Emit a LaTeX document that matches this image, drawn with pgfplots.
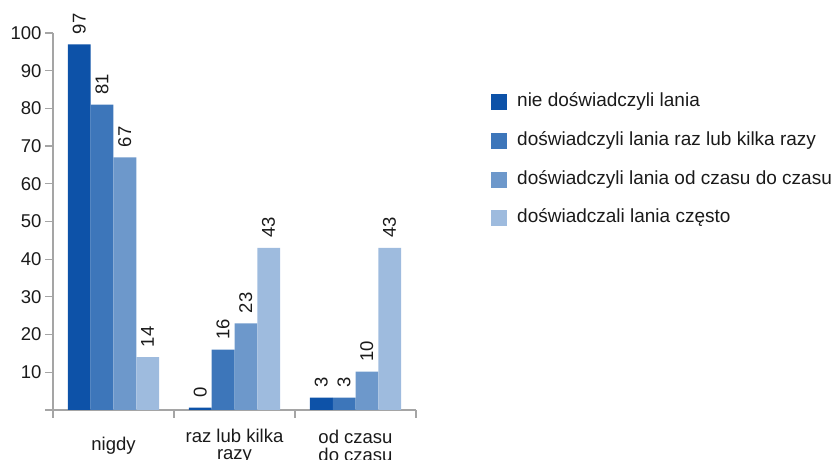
\documentclass[border=0pt]{standalone}
\usepackage{fontspec}
\setmainfont{Liberation Sans}
\usepackage{pgfplots}
\pgfplotsset{compat=1.18}
\definecolor{c1}{RGB}{13,82,168}
\definecolor{c2}{RGB}{61,118,186}
\definecolor{c3}{RGB}{109,152,203}
\definecolor{c4}{RGB}{158,187,222}
\definecolor{axisgray}{RGB}{165,165,165}
\definecolor{textc}{RGB}{26,26,26}
\begin{document}
\begin{tikzpicture}[x=1pt,y=1pt]
\path[use as bounding box] (0,0) rectangle (836,460);
\clip (0,0) rectangle (836,460);
\begin{axis}[
    at={(53pt,50pt)}, anchor=south west,
    scale only axis, width=363pt, height=377pt,
    xmin=-0.5, xmax=2.5, ymin=0, ymax=100,
    ybar=0pt, bar width=22.75pt,
    axis x line*=bottom, axis y line*=left,
    axis line style={draw=axisgray, line width=1.2pt},
    xtick={0,1,2},
    xticklabels={nigdy,{raz lub kilka\\razy},{od czasu\\do czasu}},
    major x tick style={draw=none},
    minor xtick={-0.5,0.5,1.5,2.5},
    minor x tick style={draw=axisgray, line width=1.2pt},
    minor tick length=8pt,
    ytick={0,10,...,100},
    yticklabels={,10,20,30,40,50,60,70,80,90,100},
    major tick length=8pt, tick align=outside,
    y tick style={draw=axisgray, line width=1.2pt},
    tick label style={font=\fontsize{18.5}{17.5}\selectfont, text=textc},
    /pgf/number format/assume math mode=true,
    xticklabel style={align=center, anchor=center, yshift=-28pt},
    point meta=explicit,
    nodes near coords={\pgfmathprintnumber{\pgfplotspointmeta}},
    every node near coord/.append style={rotate=90, anchor=west, inner sep=0pt,
        xshift=10pt, font=\fontsize{18.5}{19}\selectfont, text=textc},
    legend style={draw=none, fill=none, inner sep=0pt,
        at={(1.2066,0.8422)}, anchor=north west,
        font=\fontsize{19}{22}\selectfont, text=textc,
        nodes={inner sep=0pt, text height=14pt, text depth=5pt},
        row sep=19.7pt, column sep=10pt},
    legend cell align=left,
    legend image code/.code={\fill[#1] (0pt,-8pt) rectangle (16pt,8pt);},
]
\addplot[fill=c1, draw=none] coordinates {(0,97) [97] (1,0.6) [0] (2,3.3) [3]};
\addplot[fill=c2, draw=none] coordinates {(0,81) [81] (1,16) [16] (2,3.3) [3]};
\addplot[fill=c3, draw=none] coordinates {(0,67) [67] (1,23) [23] (2,10.2) [10]};
\addplot[fill=c4, draw=none] coordinates {(0,14) [14] (1,43) [43] (2,43) [43]};
\legend{nie doświadczyli lania, doświadczyli lania raz lub kilka razy,
    doświadczyli lania od czasu do czasu, doświadczali lania często}
\end{axis}
\end{tikzpicture}
\end{document}
